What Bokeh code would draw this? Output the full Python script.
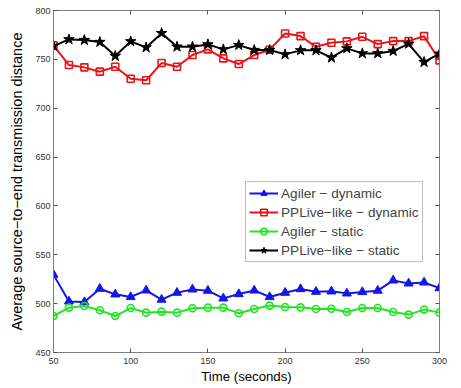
from bokeh.plotting import figure
from bokeh.models import Range1d, LinearAxis, Legend, LegendItem, FixedTicker
from bokeh.embed import file_html
from bokeh.resources import INLINE

time = [50, 60, 70, 80, 90, 100, 110, 120, 130, 140, 150, 160, 170, 180,
        190, 200, 210, 220, 230, 240, 250, 260, 270, 280, 290, 300]
agiler_dynamic = [529.6, 502.3, 501.6, 515.3, 509.5, 506.8, 513.6, 504.1, 511.2, 514.6, 513.3,
                  505.4, 509.8, 513.5, 506.8, 511.2, 514.9, 512.2, 512.6, 510.5, 511.9, 513.3,
                  523.8, 520.7, 521.7, 515.9]
pplive_dynamic = [764.3, 744.2, 741.8, 737.4, 742.5, 730.2, 728.6, 746.2, 742.5, 754.4, 760.2,
                  751.0, 745.2, 754.4, 759.9, 776.5, 773.8, 762.9, 767.0, 768.4, 773.1, 765.6,
                  768.7, 768.7, 773.8, 749.0]
agiler_static = [487.3, 495.9, 497.6, 493.2, 487.3, 495.5, 490.8, 491.8, 490.8, 495.2, 495.9,
                 495.9, 490.1, 494.5, 498.0, 496.5, 496.2, 494.5, 494.8, 491.4, 495.5, 495.5,
                 491.4, 488.8, 493.9, 490.8]
pplive_static = [763.6, 770.4, 769.7, 767.7, 753.4, 768.4, 762.2, 776.8, 762.9, 762.9, 765.3,
                 760.2, 764.6, 759.5, 759.5, 755.1, 759.2, 759.2, 751.7, 761.2, 756.1, 756.1,
                 758.5, 765.9, 747.2, 755.8]
x_ticks = [50, 100, 150, 200, 250, 300]
y_ticks = [450, 500, 550, 600, 650, 700, 750, 800]

FONT = "Liberation Sans"

p = figure(width=461, height=388, output_backend="svg", toolbar_location=None,
           x_range=Range1d(50, 300), y_range=Range1d(450, 800),
           min_border_left=53, min_border_right=22, min_border_top=10, min_border_bottom=36)
p.background_fill_color = "white"
p.border_fill_color = "white"
p.outline_line_color = "#7f7f7f"
p.outline_line_width = 1
p.xgrid.visible = False
p.ygrid.visible = False

for ax in p.xaxis + p.yaxis:
    ax.axis_line_color = "#7f7f7f"
    ax.major_tick_in = 4
    ax.major_tick_out = 0
    ax.minor_tick_line_color = None
    ax.major_tick_line_color = "#555555"
    ax.major_label_text_font = FONT
    ax.major_label_text_font_size = "9px"
    ax.major_label_text_color = "#333333"
    ax.axis_label_text_font = FONT
    ax.axis_label_text_font_style = "normal"
    ax.axis_label_text_color = "black"
p.xaxis.ticker = FixedTicker(ticks=x_ticks)
p.yaxis.ticker = FixedTicker(ticks=y_ticks)
p.xaxis.axis_label = "Time (seconds)"
p.yaxis.axis_label = "Average source\u2212to\u2212end transmission distance"
p.xaxis.axis_label_text_font_size = "13.2px"
p.yaxis.axis_label_text_font_size = "14.5px"
p.xaxis.major_label_standoff = 5
p.yaxis.major_label_standoff = 3
p.xaxis.axis_label_standoff = 2
p.yaxis.axis_label_standoff = 7

top = LinearAxis(ticker=FixedTicker(ticks=x_ticks),
                 major_label_overrides={t: "" for t in x_ticks},
                 major_tick_in=4, major_tick_out=0, minor_tick_line_color=None,
                 axis_line_color="#7f7f7f", major_tick_line_color="#555555",
                 major_label_standoff=0, major_label_text_font_size="9px")
right = LinearAxis(ticker=FixedTicker(ticks=y_ticks),
                   major_label_overrides={t: "" for t in y_ticks},
                   major_tick_in=4, major_tick_out=0, minor_tick_line_color=None,
                   axis_line_color="#7f7f7f", major_tick_line_color="#555555",
                   major_label_standoff=0, major_label_text_font_size="9px")
p.add_layout(top, "above")
p.add_layout(right, "right")

BLUE = "#1515e8"
RED = "#e81518"
GREEN = "#22e61f"
BLACK = "#000000"

l1 = p.line(time, agiler_dynamic, color=BLUE, line_width=2)
m1 = p.scatter(time, agiler_dynamic, marker="triangle", size=9, color=BLUE)
l2 = p.line(time, pplive_dynamic, color=RED, line_width=2)
m2 = p.scatter(time, pplive_dynamic, marker="square", size=7, line_color=RED,
               fill_color=None, line_width=1.6)
l3 = p.line(time, agiler_static, color=GREEN, line_width=2)
m3 = p.scatter(time, agiler_static, marker="circle", size=7, line_color=GREEN,
               fill_color=None, line_width=1.6)
l4 = p.line(time, pplive_static, color=BLACK, line_width=2)
m4 = p.scatter(time, pplive_static, marker="star", size=11, color=BLACK)

legend = Legend(items=[
    LegendItem(label="Agiler \u2212 dynamic", renderers=[l1, m1]),
    LegendItem(label="PPLive\u2212like \u2212 dynamic", renderers=[l2, m2]),
    LegendItem(label="Agiler \u2212 static", renderers=[l3, m3]),
    LegendItem(label="PPLive\u2212like \u2212 static", renderers=[l4, m4]),
], location=(192, 90))
legend.label_text_font = FONT
legend.label_text_font_size = "13.6px"
legend.label_standoff = 3
legend.glyph_width = 29
legend.glyph_height = 16
legend.label_height = 16
legend.spacing = 3
legend.padding = 3
legend.margin = 0
legend.border_line_color = "#7f7f7f"
legend.border_line_width = 1
legend.background_fill_alpha = 1
p.add_layout(legend)

open("out.html", "w").write(file_html(p, INLINE))
